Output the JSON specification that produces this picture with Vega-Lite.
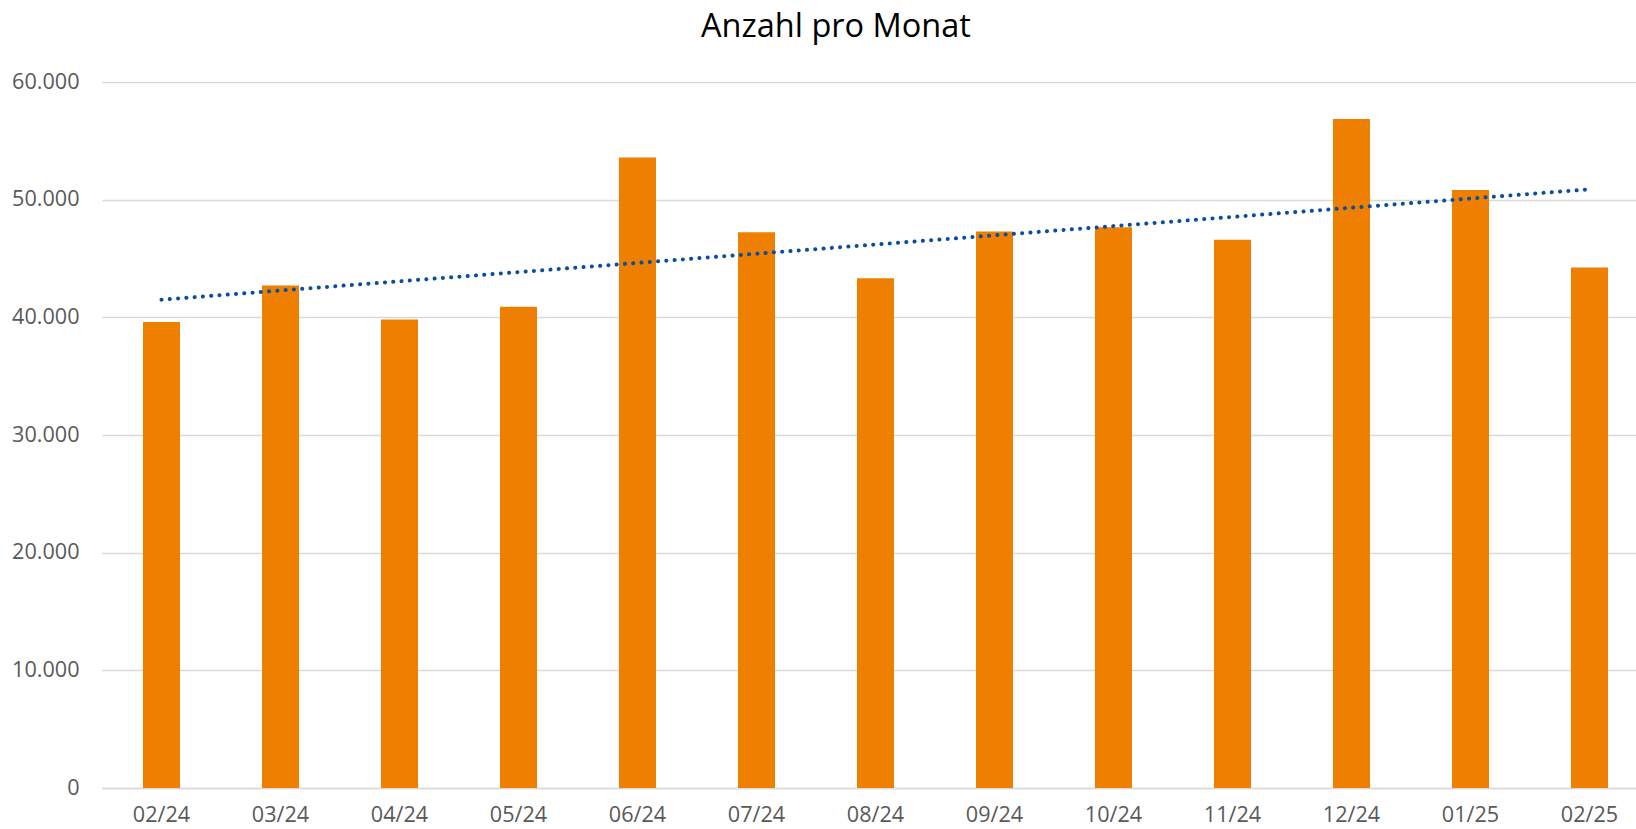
{
  "$schema": "https://vega.github.io/schema/vega-lite/v6.json",
  "autosize": {"type": "none"},
  "padding": {"left": 102, "top": 82, "right": 0, "bottom": 41},
  "width": 1534,
  "height": 706,
  "background": "white",
  "config": {"view": {"stroke": null}},
  "title": {
    "text": "Anzahl pro Monat",
    "font": "Open Sans",
    "fontSize": 32.5,
    "fontWeight": "normal",
    "color": "#000000",
    "anchor": "middle",
    "frame": "group",
    "baseline": "alphabetic",
    "offset": 2,
    "dx": -33
  },
  "data": {
    "values": [
      {"Monat": "02/24", "Anzahl": 39600, "Trend": 41500},
      {"Monat": "03/24", "Anzahl": 42700, "Trend": null},
      {"Monat": "04/24", "Anzahl": 39810, "Trend": null},
      {"Monat": "05/24", "Anzahl": 40890, "Trend": null},
      {"Monat": "06/24", "Anzahl": 53580, "Trend": null},
      {"Monat": "07/24", "Anzahl": 47240, "Trend": null},
      {"Monat": "08/24", "Anzahl": 43330, "Trend": null},
      {"Monat": "09/24", "Anzahl": 47290, "Trend": null},
      {"Monat": "10/24", "Anzahl": 47660, "Trend": null},
      {"Monat": "11/24", "Anzahl": 46600, "Trend": null},
      {"Monat": "12/24", "Anzahl": 56860, "Trend": null},
      {"Monat": "01/25", "Anzahl": 50830, "Trend": null},
      {"Monat": "02/25", "Anzahl": 44230, "Trend": 50880}
    ]
  },
  "encoding": {
    "x": {
      "field": "Monat",
      "type": "ordinal",
      "sort": null,
      "scale": {"range": [0, 1547], "paddingInner": 0.689, "paddingOuter": 0.3445},
      "axis": {
        "title": null,
        "labelAngle": 0,
        "labelFont": "Open Sans",
        "labelFontSize": 21.6,
        "labelColor": "#595959",
        "labelPadding": 16,
        "ticks": false,
        "domain": true,
        "domainColor": "#D9D9D9",
        "domainWidth": 1.5,
        "grid": false
      }
    }
  },
  "layer": [
    {
      "mark": {"type": "bar", "color": "#EF7F00"},
      "encoding": {
        "y": {
          "field": "Anzahl",
          "type": "quantitative",
          "scale": {"domain": [0, 60000], "nice": false},
          "axis": {
            "title": null,
            "values": [0, 10000, 20000, 30000, 40000, 50000, 60000],
            "labelExpr": "replace(format(datum.value, ','), ',', '.')",
            "labelFont": "Open Sans",
            "labelFontSize": 21.6,
            "labelColor": "#595959",
            "labelPadding": 23,
            "ticks": false,
            "domain": false,
            "grid": true,
            "gridColor": "#D9D9D9",
            "gridWidth": 1.5
          }
        }
      }
    },
    {
      "transform": [{"filter": "isValid(datum.Trend)"}],
      "mark": {
        "type": "line",
        "color": "#0B4F9C",
        "strokeWidth": 4,
        "strokeCap": "round",
        "strokeDash": [0.1, 8.2]
      },
      "encoding": {
        "y": {"field": "Trend", "type": "quantitative"}
      }
    }
  ]
}
